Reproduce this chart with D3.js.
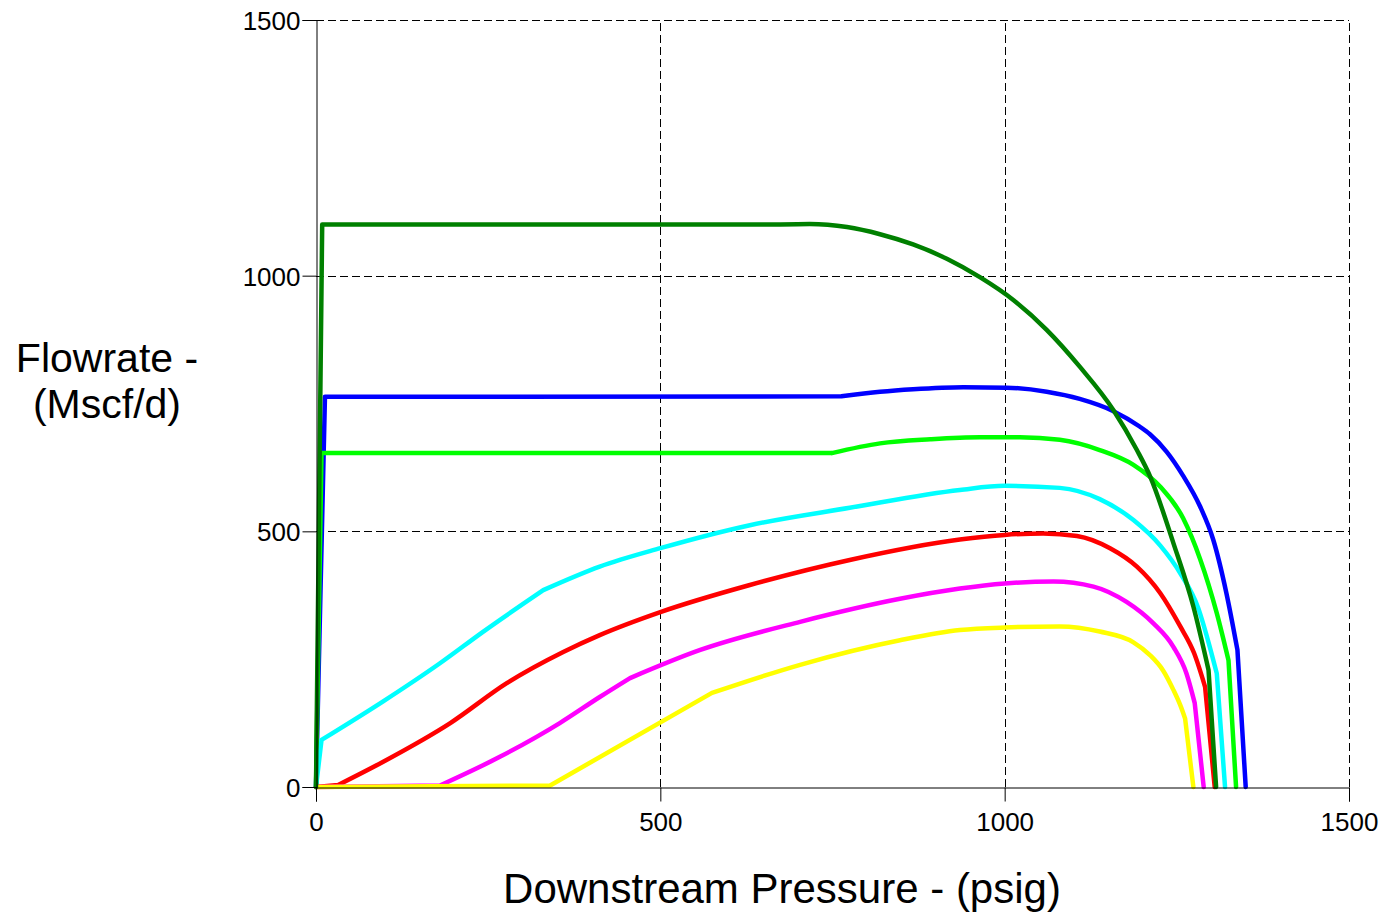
<!DOCTYPE html>
<html>
<head>
<meta charset="utf-8">
<script src="https://cdn.jsdelivr.net/npm/d3@7"></script>
<style>
  body { margin: 0; background: #fff; }
  text { font-family: "Liberation Sans", Arial, sans-serif; fill: #000; }
</style>
</head>
<body>
<div id="chart"></div>
<script>
// chart data (psig, Mscf/d)
var xTicks = [0, 500, 1000, 1500];
var yTicks = [0, 500, 1000, 1500];

var darkGreen = [[0,0],[9,1100],[674,1100],[717,1101],[771,1095],[819,1081],[867,1061],[916,1033],[964,997],
    [1013,952],[1061,894],[1109,822],[1158,737],[1192,659],[1211,608],[1245,477],[1274,353],[1296,229],[1307,0]];
var blue = [[0,0],[13,763],[763,764],[819,773],[867,778],[940,782],[1003,781],[1061,773],[1109,759],[1158,735],
    [1196,705],[1211,690],[1235,656],[1259,609],[1284,548],[1303,483],[1322,379],[1338,268],[1350,0]];
var green = [[0,0],[8,653],[749,653],[819,672],[892,680],[964,684],[1022,684],[1080,679],[1138,659],[1187,630],
    [1226,587],[1259,526],[1284,445],[1308,340],[1325,248],[1336,0]];
var cyan = [[0,0],[8,92],[97,167],[180,242],[243,304],[330,385],[412,431],[500,467],[630,512],[775,546],
    [935,581],[1000,589],[1080,585],[1138,563],[1187,522],[1226,472],[1255,418],[1281,350],[1296,283],[1308,222],[1320,0]];
var red = [[0,0],[32,4],[97,49],[195,125],[277,203],[359,264],[412,297],[500,342],[630,395],[775,444],
    [935,484],[1000,493],[1056,496],[1105,491],[1153,467],[1192,431],[1226,379],[1255,314],[1275,262],[1291,196],[1305,0]];
var magenta = [[0,0],[180,3],[267,59],[354,125],[412,176],[456,213],[558,268],[703,323],[848,368],[935,388],
    [1000,398],[1071,402],[1129,392],[1177,362],[1216,320],[1245,274],[1264,222],[1276,164],[1289,0]];
var yellow = [[0,0],[340,3],[575,184],[703,239],[848,287],[935,307],[1000,312],[1080,314],[1138,304],
    [1187,283],[1211,258],[1230,228],[1245,190],[1255,160],[1262,134],[1274,0]];

// indices of the points where a curve has a corner
var darkGreenCorners = [1, 2, 17];
var blueCorners = [1, 2, 17];
var greenCorners = [1, 2, 14];
var cyanCorners = [1, 5, 19];
var redCorners = [1, 19];
var magentaCorners = [1, 5, 17];
var yellowCorners = [1, 2, 14];

var series = [
    {name: "blue", color: "#0000ff", values: blue, corners: blueCorners},
    {name: "green", color: "#00ff00", values: green, corners: greenCorners},
    {name: "cyan", color: "#00ffff", values: cyan, corners: cyanCorners},
    {name: "red", color: "#ff0000", values: red, corners: redCorners},
    {name: "magenta", color: "#ff00ff", values: magenta, corners: magentaCorners},
    {name: "yellow", color: "#ffff00", values: yellow, corners: yellowCorners},
    {name: "darkgreen", color: "#008000", values: darkGreen, corners: darkGreenCorners}
];

const width = 1389, height = 912;
const margin = {left: 316, right: 40, top: 20, bottom: 125};

const svg = d3.select("#chart").append("svg")
    .attr("width", width)
    .attr("height", height);

var x = d3.scaleLinear().domain([0, 1500]).range([margin.left, width - margin.right]);
var y = d3.scaleLinear().domain([0, 1500]).range([height - margin.bottom, margin.top]);

// dashed grid
var grid = svg.append("g").attr("class", "grid");
grid.selectAll("line.vx")
    .data(xTicks.slice(1))
    .enter().append("line")
    .attr("x1", d => Math.round(x(d)) + 0.5)
    .attr("x2", d => Math.round(x(d)) + 0.5)
    .attr("y1", y(0))
    .attr("y2", y(1500))
    .style("stroke", "#000")
    .style("stroke-dasharray", "8,4");
grid.selectAll("line.hy")
    .data(yTicks.slice(1))
    .enter().append("line")
    .attr("y1", d => Math.round(y(d)) + 0.5)
    .attr("y2", d => Math.round(y(d)) + 0.5)
    .attr("x1", x(0))
    .attr("x2", x(1500))
    .style("stroke", "#000")
    .style("stroke-dasharray", "8,4");

// curves: smooth between corners, sharp at corners
var line = d3.line()
    .curve(d3.curveMonotoneX)
    .x(d => x(d[0]))
    .y(d => y(d[1]));

function curvePath(s) {
    var cuts = [0].concat(s.corners, [s.values.length - 1]);
    var d = "";
    for (var i = 0; i < cuts.length - 1; i++) {
        d += line(s.values.slice(cuts[i], cuts[i + 1] + 1));
    }
    return d;
}

svg.append("g").attr("class", "curves")
    .selectAll("path")
    .data(series)
    .enter().append("path")
    .attr("d", curvePath)
    .style("fill", "none")
    .style("stroke", d => d.color)
    .style("stroke-width", 4.5)
    .style("stroke-linecap", "round")
    .style("stroke-linejoin", "round");

// axes
var fmt = d3.format("d");
var xAxis = svg.append("g")
    .attr("transform", "translate(0," + (Math.round(y(0)) + 0.5) + ")")
    .call(d3.axisBottom(x).tickValues(xTicks).tickFormat(fmt).tickSize(14).tickPadding(6));
var yAxis = svg.append("g")
    .attr("transform", "translate(" + (Math.round(x(0)) + 0.5) + ",0)")
    .call(d3.axisLeft(y).tickValues(yTicks).tickFormat(fmt).tickSize(14).tickPadding(2));

[xAxis, yAxis].forEach(function (a) {
    a.select(".domain").attr("stroke", "#000");
    a.selectAll(".tick line").attr("stroke", "#000");
    a.selectAll(".tick text")
        .style("font-family", "'Liberation Sans', Arial, sans-serif")
        .style("font-size", "26px")
        .attr("fill", "#000");
});
xAxis.selectAll(".tick text").attr("dy", "0.9em");
yAxis.selectAll(".tick text").attr("dy", "0.36em");

// axis titles
svg.append("text")
    .attr("x", 782)
    .attr("y", 903)
    .attr("text-anchor", "middle")
    .style("font-size", "42px")
    .text("Downstream Pressure - (psig)");

svg.append("text")
    .attr("x", 107)
    .attr("y", 372)
    .attr("text-anchor", "middle")
    .style("font-size", "41px")
    .text("Flowrate -");
svg.append("text")
    .attr("x", 107)
    .attr("y", 418)
    .attr("text-anchor", "middle")
    .style("font-size", "41px")
    .text("(Mscf/d)");
</script>
</body>
</html>
